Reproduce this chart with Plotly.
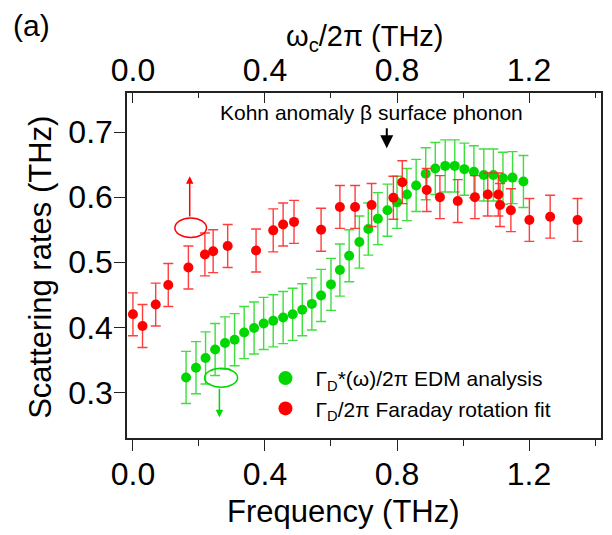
import plotly.graph_objects as go

# Faraday rotation fit (red)
red_freq = [0.0, 0.029, 0.069, 0.107, 0.168, 0.218, 0.243, 0.287, 0.373, 0.425,
            0.455, 0.488, 0.570, 0.627, 0.673, 0.723, 0.789, 0.816, 0.890, 0.930,
            0.984, 1.036, 1.075, 1.107, 1.112, 1.145, 1.201, 1.264, 1.347]
red_rate = [0.420, 0.402, 0.435, 0.465, 0.492, 0.512, 0.517, 0.525, 0.518, 0.549,
            0.558, 0.562, 0.550, 0.585, 0.585, 0.588, 0.599, 0.623, 0.611, 0.600,
            0.594, 0.600, 0.604, 0.604, 0.588, 0.580, 0.565, 0.570, 0.565]
red_err = [0.033] * len(red_freq)

# EDM analysis (green)
green_freq = [0.161, 0.191, 0.220, 0.249, 0.279, 0.308, 0.337, 0.367, 0.396, 0.425,
              0.455, 0.484, 0.513, 0.542, 0.570, 0.600, 0.627, 0.655, 0.686, 0.713,
              0.742, 0.771, 0.800, 0.830, 0.858, 0.887, 0.916, 0.946, 0.975, 1.004,
              1.033, 1.063, 1.092, 1.121, 1.150, 1.183]
green_rate = [0.323, 0.338, 0.353, 0.366, 0.376, 0.381, 0.392, 0.399, 0.406, 0.410,
              0.415, 0.420, 0.427, 0.436, 0.449, 0.466, 0.488, 0.510, 0.531, 0.551,
              0.567, 0.580, 0.592, 0.604, 0.618, 0.636, 0.644, 0.648, 0.648, 0.643,
              0.639, 0.634, 0.634, 0.629, 0.630, 0.624]
green_err = [0.040] * len(green_freq)

x_ticks = [0.0, 0.4, 0.8, 1.2]
y_ticks = [0.3, 0.4, 0.5, 0.6, 0.7]

FONT = 'Liberation Sans, Arial, sans-serif'
RED = 'rgb(255,0,0)'
GREEN = 'rgb(0,215,0)'

fig = go.Figure()

# data with error bars
fig.add_trace(go.Scatter(x=green_freq, y=green_rate, mode='markers',
                         marker=dict(color=GREEN, size=10),
                         error_y=dict(type='data', array=green_err, color='rgba(40,220,40,0.9)',
                                      thickness=1.4, width=5),
                         showlegend=False))
fig.add_trace(go.Scatter(x=red_freq, y=red_rate, mode='markers',
                         marker=dict(color=RED, size=10),
                         error_y=dict(type='data', array=red_err, color='rgba(255,40,40,0.9)',
                                      thickness=1.4, width=5),
                         showlegend=False))

# empty trace so the top (ω_c/2π) axis gets drawn
fig.add_trace(go.Scatter(x=[None], y=[None], xaxis='x2', yaxis='y', mode='markers',
                         showlegend=False, hoverinfo='skip'))

# legend entries (bigger dots than data)
fig.add_trace(go.Scatter(x=[None], y=[None], mode='markers', legendgroup='g',
                         marker=dict(color=GREEN, size=14),
                         name='Γ<sub>D</sub>*(ω)/2π EDM analysis'))
fig.add_trace(go.Scatter(x=[None], y=[None], mode='markers', legendgroup='r',
                         marker=dict(color=RED, size=14),
                         name='Γ<sub>D</sub>/2π Faraday rotation fit'))

# ellipses marking which axis each series belongs to
fig.add_shape(type='circle', xref='x', yref='y', x0=0.127, x1=0.223, y0=0.538, y1=0.568,
              line=dict(color=RED, width=1.5))
fig.add_shape(type='circle', xref='x', yref='y', x0=0.217, x1=0.317, y0=0.308, y1=0.337,
              line=dict(color=GREEN, width=1.5))

annotations = [
    dict(x=0.172, y=0.632, ax=0.172, ay=0.568, xref='x', yref='y', axref='x', ayref='y',
         text='', showarrow=True, arrowhead=2, arrowsize=1, arrowwidth=1.5, arrowcolor=RED),
    dict(x=0.262, y=0.262, ax=0.262, ay=0.308, xref='x', yref='y', axref='x', ayref='y',
         text='', showarrow=True, arrowhead=2, arrowsize=1, arrowwidth=1.5, arrowcolor=GREEN),
    dict(x=0.769, y=0.675, ax=0.769, ay=0.708, xref='x', yref='y', axref='x', ayref='y',
         text='', showarrow=True, arrowhead=2, arrowsize=1.3, arrowwidth=2, arrowcolor='black'),
    dict(x=0.724, y=0.73, xref='x', yref='y', text='Kohn anomaly β surface phonon',
         showarrow=False, font=dict(size=21, color='black')),
    dict(x=-0.245, y=1.196, xref='paper', yref='paper', xanchor='left', yanchor='middle',
         text='(a)', showarrow=False, font=dict(size=30, color='black')),
    # axis titles
    dict(x=0.503, y=1.160, xref='paper', yref='paper', xanchor='center', yanchor='middle',
         text='ω<sub>c</sub>/2π (THz)', showarrow=False, font=dict(size=29, color='black')),
    dict(x=0.456, y=-0.214, xref='paper', yref='paper', xanchor='center', yanchor='middle',
         text='Frequency (THz)', showarrow=False, font=dict(size=31, color='black')),
    dict(x=-0.183, y=0.494, xref='paper', yref='paper', xanchor='center', yanchor='middle',
         text='Scattering rates (THz)', textangle=-90, showarrow=False,
         font=dict(size=31, color='black')),
]

axis_common = dict(range=[-0.018, 1.418], tickvals=x_ticks, ticktext=['0.0', '0.4', '0.8', '1.2'],
                   showline=True, linecolor='#222', linewidth=1.5, showgrid=False, zeroline=False,
                   tickcolor='#222', tickwidth=1.3, tickfont=dict(size=32, color='black'),
                   automargin=False)

# the page body has an 8px margin, so the figure is 8px smaller than the window
fig.update_layout(
    width=604, height=527,
    margin=dict(l=119, r=11, t=85, b=97),
    paper_bgcolor='white', plot_bgcolor='white',
    font=dict(family=FONT, color='black'),
    xaxis=dict(**axis_common, ticks='outside', ticklen=11, ticklabelstandoff=-4,
               minor=dict(dtick=0.2, tick0=0, ticks='outside', ticklen=6, tickcolor='#222')),
    xaxis2=dict(**axis_common, overlaying='x', side='top', anchor='y', ticks='inside', ticklen=10,
                ticklabelstandoff=-3,
                minor=dict(dtick=0.2, tick0=0, ticks='inside', ticklen=5, tickcolor='#222')),
    yaxis=dict(range=[0.23, 0.76], tickvals=y_ticks, ticktext=['0.3', '0.4', '0.5', '0.6', '0.7'],
               ticks='outside', ticklen=11, tickcolor='#222', tickwidth=1.3,
               ticklabelstandoff=-5,
               showline=True, mirror=True, linecolor='#222', linewidth=1.5,
               showgrid=False, zeroline=False, tickfont=dict(size=32, color='black'),
               automargin=False),
    legend=dict(x=0.271, y=0.232, xanchor='left', yanchor='top', bgcolor='rgba(0,0,0,0)',
                font=dict(size=21, color='black'), itemwidth=50, tracegroupgap=0,
                itemsizing='trace'),
    annotations=annotations,
)

fig.write_html("out.html")
